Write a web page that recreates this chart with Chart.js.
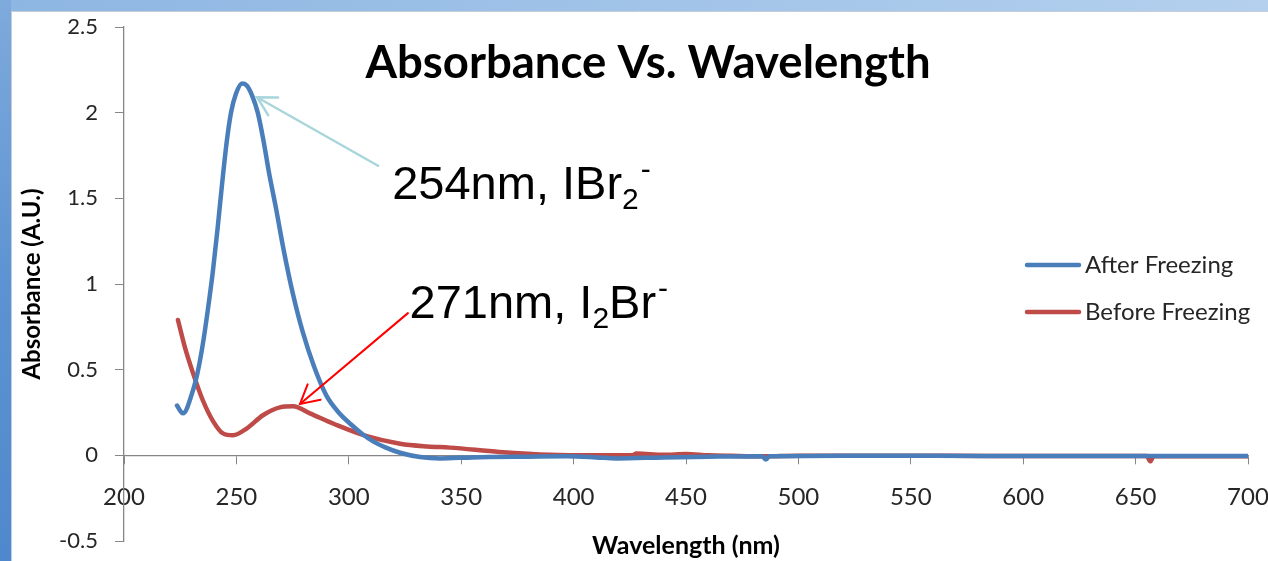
<!DOCTYPE html>
<html><head><meta charset="utf-8">
<script src="https://cdn.jsdelivr.net/npm/chart.js@4/dist/chart.umd.min.js"></script>
<style>
html,body{margin:0;padding:0;width:1268px;height:561px;overflow:hidden;background:#fff;}
#wrap{position:absolute;left:0;top:0;width:1268px;height:561px;}
</style></head><body>
<div id="wrap"><canvas id="c" width="1268" height="561"></canvas></div>
<script>
// ---- data ----
const seriesNames = ['After Freezing', 'Before Freezing'];
const afterX = [223.6, 226.2, 230.7, 233, 235.2, 237.3, 239.5, 241.6, 243.6, 245.6, 247.6, 249.8, 252.5, 254.5, 257, 259.5, 262, 264.5, 267.5, 271, 275, 279.5, 284.5, 290, 295.5, 301, 306, 311, 316.5, 322.8, 331.7, 340.6, 355, 380, 397, 410, 419, 440, 460, 484, 485.5, 487, 520, 560, 600, 650, 700];
const afterY = [0.29, 0.245, 0.38, 0.50, 0.66, 0.85, 1.07, 1.32, 1.58, 1.82, 2.00, 2.11, 2.17, 2.16, 2.10, 2.00, 1.84, 1.65, 1.45, 1.20, 0.95, 0.72, 0.52, 0.35, 0.25, 0.18, 0.125, 0.08, 0.045, 0.015, -0.01, -0.018, -0.012, -0.008, -0.006, -0.012, -0.018, -0.012, -0.008, -0.005, -0.025, -0.005, -0.003, -0.003, -0.004, -0.004, -0.004];
const beforeX = [224, 227.1, 230.7, 235.1, 239.6, 244, 248.5, 254.7, 261.8, 269.4, 275.2, 282.7, 294, 308, 322.8, 335, 345, 367, 389.5, 410, 426, 428, 440, 450, 460, 470, 485, 500, 550, 585, 600, 630, 655, 656.5, 658, 680, 700];
const beforeY = [0.79, 0.63, 0.48, 0.32, 0.20, 0.128, 0.117, 0.158, 0.234, 0.28, 0.286, 0.245, 0.18, 0.112, 0.068, 0.052, 0.045, 0.02, 0.003, 0.0, 0.0, 0.01, 0.003, 0.008, 0.0, -0.003, -0.006, -0.002, -0.002, -0.004, -0.004, -0.004, -0.004, -0.035, -0.005, -0.005, -0.006];
const xTicks = [200, 250, 300, 350, 400, 450, 500, 550, 600, 650, 700];
const yTicks = [-0.5, 0, 0.5, 1, 1.5, 2, 2.5];
const titleText = 'Absorbance Vs. Wavelength';
const xTitle = 'Wavelength (nm)';
const yTitle = 'Absorbance (A.U.)';
// annotations: text anchor, arrow tip and tail in data units
const note1Parts = [['254nm, IBr', 0], ['2', -1], ['-', 1]];
const note1At = [319.3, 1.495], note1Tip = [259.2, 2.09], note1Tail = [313, 1.69];
const note2Parts = [['271nm, I', 0], ['2', -1], ['Br', 0], ['-', 1]];
const note2At = [327, 0.80], note2Tip = [278.3, 0.30], note2Tail = [326.3, 0.83];

const BLUE = '#4a7ebb', RED = '#be4b48';

const bgPlugin = {
  id: 'bg',
  beforeDraw(chart) {
    const c = chart.ctx, W = chart.width, H = chart.height;
    c.save();
    const gTop = c.createLinearGradient(0, 0, W, 0);
    gTop.addColorStop(0, '#8db6e2'); gTop.addColorStop(1, '#b4d0ee');
    c.fillStyle = gTop; c.fillRect(0, 0, W, 11);
    const gLeft = c.createLinearGradient(0, 0, 0, H);
    gLeft.addColorStop(0, '#7eaadc'); gLeft.addColorStop(0.5, '#5d93d2'); gLeft.addColorStop(1, '#4f88cc');
    c.fillStyle = gLeft; c.fillRect(0, 0, 11, H);
    c.fillStyle = '#ffffff'; c.fillRect(11, 11, W - 11, H - 11);
    c.strokeStyle = '#c4ccd6'; c.lineWidth = 1;
    c.beginPath(); c.moveTo(11.5, H); c.lineTo(11.5, 11.5); c.lineTo(W, 11.5); c.stroke();
    c.restore();
  }
};

function arrow(c, x0, y0, x1, y1, color, w) {
  c.save();
  c.strokeStyle = color; c.lineWidth = w; c.lineCap = 'round';
  c.beginPath(); c.moveTo(x0, y0); c.lineTo(x1, y1); c.stroke();
  const a = Math.atan2(y1 - y0, x1 - x0), L = 21, s = 0.5;
  c.beginPath();
  c.moveTo(x1 - L * Math.cos(a - s), y1 - L * Math.sin(a - s));
  c.lineTo(x1, y1);
  c.lineTo(x1 - L * Math.cos(a + s), y1 - L * Math.sin(a + s));
  c.stroke();
  c.restore();
}
function richText(c, parts, x, y) {
  let cx = x;
  for (const [t, mode] of parts) {
    if (mode === 0) { c.font = '47px "Liberation Sans", Arial, sans-serif'; c.fillText(t, cx, y); }
    else if (mode === -1) { c.font = '30px "Liberation Sans", Arial, sans-serif'; c.fillText(t, cx, y + 10); }
    else { c.font = '30px "Liberation Sans", Arial, sans-serif'; c.fillText(t, cx + 2, y - 20); }
    cx += c.measureText(t).width + (mode === 1 ? 2 : 0);
  }
}

const annoPlugin = {
  id: 'anno',
  afterDraw(chart) {
    const c = chart.ctx, xs = chart.scales.x, ys = chart.scales.y;
    const P = p => [xs.getPixelForValue(p[0]), ys.getPixelForValue(p[1])];
    // title
    c.save();
    c.fillStyle = '#000'; c.textAlign = 'center'; c.textBaseline = 'middle';
    c.font = 'bold 45.5px Lato, sans-serif';
    c.fillText(titleText, 648, 63);
    c.restore();
    // arrows
    let t = P(note1Tail), h = P(note1Tip);
    arrow(c, t[0], t[1], h[0], h[1], '#a8d6db', 2.5);
    t = P(note2Tail); h = P(note2Tip);
    arrow(c, t[0], t[1], h[0], h[1], '#ff0000', 2);
    // texts
    c.save(); c.fillStyle = '#000'; c.textAlign = 'left'; c.textBaseline = 'alphabetic';
    let a = P(note1At); richText(c, note1Parts, a[0], a[1]);
    a = P(note2At); richText(c, note2Parts, a[0], a[1]);
    c.restore();
    // legend
    c.save();
    chart.data.datasets.forEach((ds, i) => {
      const y = 265 + i * 47;
      c.strokeStyle = ds.borderColor; c.lineWidth = 4.5; c.lineCap = 'round';
      c.beginPath(); c.moveTo(1027, y); c.lineTo(1079, y); c.stroke();
      c.fillStyle = '#262626'; c.font = '24px Lato, sans-serif'; c.textBaseline = 'middle'; c.textAlign = 'left';
      c.fillText(ds.label, 1085, y);
    });
    c.restore();
  }
};

const zeroPad = s => { s.paddingLeft = 0; s.paddingRight = 0; s.paddingTop = 0; s.paddingBottom = 0; };

Chart.defaults.font.family = 'Lato, sans-serif';
new Chart(document.getElementById('c'), {
  type: 'line',
  data: {
    datasets: [
      { label: seriesNames[0], data: afterX.map((x, i) => ({ x, y: afterY[i] })), borderColor: BLUE, borderWidth: 4.5, pointRadius: 0, cubicInterpolationMode: 'monotone', borderJoinStyle: 'round', borderCapStyle: 'round' },
      { label: seriesNames[1], data: beforeX.map((x, i) => ({ x, y: beforeY[i] })), borderColor: RED, borderWidth: 4.5, pointRadius: 0, cubicInterpolationMode: 'monotone', borderJoinStyle: 'round', borderCapStyle: 'round' }
    ]
  },
  options: {
    responsive: false, animation: false, devicePixelRatio: 1,
    layout: { padding: { left: 0, top: 27, right: 20, bottom: 0 } },
    plugins: { legend: { display: false }, title: { display: false }, tooltip: { enabled: false } },
    scales: {
      x: {
        type: 'linear', min: 200, max: 700, position: { y: 0 },
        afterBuildTicks: s => { s.ticks = xTicks.map(v => ({ value: v })); },
        afterFit: zeroPad,
        grid: { drawOnChartArea: false, tickLength: 8, color: '#868686' },
        border: { color: '#868686', width: 1.3 },
        ticks: { padding: 20, color: '#262626', font: { size: 24 }, maxRotation: 0, autoSkip: false, callback: v => String(v) }
      },
      x2: {
        type: 'linear', position: 'bottom', min: 200, max: 700,
        grid: { display: false }, border: { display: false }, ticks: { display: false },
        title: { display: true, text: xTitle, font: { size: 25, weight: 'bold' }, color: '#000', padding: 0 },
        afterFit: s => { zeroPad(s); s.height = 20; }
      },
      y: {
        type: 'linear', min: -0.5, max: 2.5,
        afterBuildTicks: s => { s.ticks = yTicks.map(v => ({ value: v })); },
        grid: { drawOnChartArea: false, tickLength: 9, color: '#868686' },
        border: { color: '#868686', width: 1.3 },
        ticks: { padding: 17, color: '#262626', font: { size: 22 }, callback: v => String(v) },
        title: { display: true, text: yTitle, font: { size: 24, weight: 'bold' }, color: '#000', padding: { top: 18, bottom: 0 } },
        afterFit: s => { zeroPad(s); s.width = 124; }
      }
    }
  },
  plugins: [bgPlugin, annoPlugin]
});
</script>
</body></html>
